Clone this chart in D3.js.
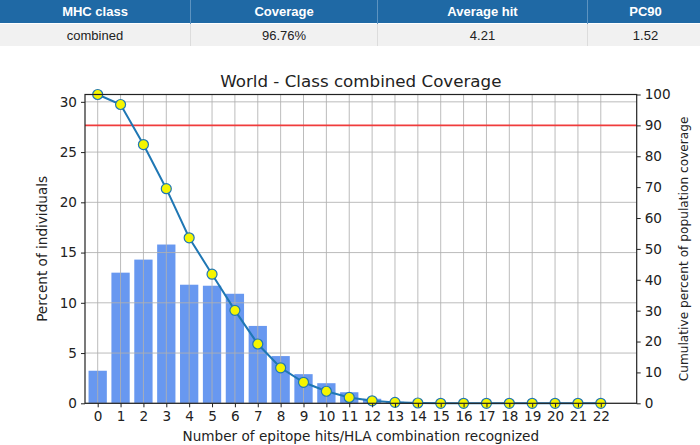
<!DOCTYPE html>
<html>
<head>
<meta charset="utf-8">
<style>
    body { margin: 0; background: #fff; width: 700px; height: 445px; overflow: hidden; }
    table.summary {
        position: absolute; left: 0; top: 0; width: 700px;
        border-collapse: collapse; table-layout: fixed;
        font-family: "Liberation Sans", Arial, sans-serif; font-size: 13px;
    }
    table.summary th {
        background: #1f69a5; color: #fff; font-weight: bold;
        height: 23px; padding: 0; border-right: 1px solid #5d93c0;
    }
    table.summary td {
        background: #f1f1f1; color: #222; text-align: center;
        height: 22px; padding: 0; border-right: 1px solid #dcdcdc; border-top: 1px solid #fff;
    }
    svg { position: absolute; left: 0; top: 0; }
    text { font-family: "DejaVu Sans", sans-serif; fill: #222; }
</style>
<script src="https://cdn.jsdelivr.net/npm/d3@7"></script>
</head>
<body>
<svg id="chart" width="700" height="445"></svg>
<table class="summary" id="summary"></table>

<script>
// table
var tableHeaders = ["MHC class", "Coverage", "Average hit", "PC90"];
var tableRow = ["combined", "96.76%", "4.21", "1.52"];
var colWidths = [190, 186, 209, 115];

// chart data
var hits = d3.range(0, 23);
var percentIndividuals = [3.24, 13.0, 14.3, 15.8, 11.8, 11.7, 10.9, 7.7, 4.7, 2.9, 2.0, 1.1,
                          0.45, 0.15, 0.05, 0, 0, 0, 0, 0, 0, 0, 0];
var cumulativeCoverage = [100, 96.76, 83.8, 69.5, 53.6, 41.8, 30.1, 19.2, 11.5, 6.8, 3.9, 1.9,
                          0.8, 0.3, 0.1, 0, 0, 0, 0, 0, 0, 0, 0];
var leftTicks = [0, 5, 10, 15, 20, 25, 30];
var rightTicks = [0, 10, 20, 30, 40, 50, 60, 70, 80, 90, 100];
var pc90Line = 90;

var tbl = d3.select("#summary");
tbl.append("tr").selectAll("th").data(tableHeaders).enter().append("th")
    .style("width", function (d, i) { return colWidths[i] + "px"; })
    .text(function (d) { return d; });
tbl.append("tr").selectAll("td").data(tableRow).enter().append("td")
    .text(function (d) { return d; });

var svg = d3.select("#chart");
var plotL = 85, plotR = 636.7, plotT = 94.5, plotB = 403.3;

var x = d3.scaleLinear().domain([-0.555, 23.57]).range([plotL, plotR]);
var yL = d3.scaleLinear().domain([0, 30.73]).range([plotB, plotT]);
var yR = d3.scaleLinear().domain([0, 100]).range([plotB, plotT]);
var bw = x(0.8) - x(0);

// bars
svg.append("g").selectAll("rect").data(hits).enter().append("rect")
    .attr("x", function (d) { return x(d - 0.4); })
    .attr("y", function (d) { return yL(percentIndividuals[d]); })
    .attr("width", bw)
    .attr("height", function (d) { return plotB - yL(percentIndividuals[d]); })
    .attr("fill", "#6898f0");

// grid (drawn over bars)
var grid = svg.append("g").attr("stroke", "#b0b0b0").attr("stroke-opacity", 0.85).attr("stroke-width", 1);
grid.selectAll("line.v").data(hits).enter().append("line")
    .attr("x1", function (d) { return x(d); }).attr("x2", function (d) { return x(d); })
    .attr("y1", plotT).attr("y2", plotB);
grid.selectAll("line.h").data(leftTicks).enter().append("line")
    .attr("x1", plotL).attr("x2", plotR)
    .attr("y1", function (d) { return yL(d); }).attr("y2", function (d) { return yL(d); });

// 90% line
svg.append("line")
    .attr("x1", plotL).attr("x2", plotR)
    .attr("y1", yR(pc90Line)).attr("y2", yR(pc90Line))
    .attr("stroke", "#f03c3c").attr("stroke-width", 1.6);

// cumulative line
var line = d3.line()
    .x(function (d) { return x(d); })
    .y(function (d) { return yR(cumulativeCoverage[d]); });
svg.append("path").datum(hits)
    .attr("d", line).attr("fill", "none")
    .attr("stroke", "#1f77b4").attr("stroke-width", 2);
svg.append("g").selectAll("circle").data(hits).enter().append("circle")
    .attr("cx", function (d) { return x(d); })
    .attr("cy", function (d) { return yR(cumulativeCoverage[d]); })
    .attr("r", 5)
    .attr("fill", "#f5f500").attr("stroke", "#1f77b4").attr("stroke-width", 1.2);

// axes
function styleAxis(g) {
    g.select(".domain").remove();
    g.selectAll(".tick line").attr("stroke", "#222");
    g.selectAll(".tick text").attr("fill", "#222")
        .style("font-family", "DejaVu Sans").style("font-size", "13.6px");
}
svg.append("g").attr("transform", "translate(" + plotL + ",0)")
    .call(d3.axisLeft(yL).tickValues(leftTicks).tickSize(4).tickPadding(4))
    .call(styleAxis);
svg.append("g").attr("transform", "translate(" + plotR + ",0)")
    .call(d3.axisRight(yR).tickValues(rightTicks).tickSize(4).tickPadding(4))
    .call(styleAxis);
svg.append("g").attr("transform", "translate(0," + plotB + ")")
    .call(d3.axisBottom(x).tickValues(hits).tickFormat(d3.format("d")).tickSize(4).tickPadding(4))
    .call(styleAxis);

// frame
svg.append("rect")
    .attr("x", plotL).attr("y", plotT)
    .attr("width", plotR - plotL).attr("height", plotB - plotT)
    .attr("fill", "none").attr("stroke", "#222").attr("stroke-width", 1.2);

// labels
svg.append("text").attr("x", (plotL + plotR) / 2).attr("y", 86.5)
    .attr("text-anchor", "middle").style("font-size", "16.7px")
    .text("World - Class combined Coverage");
svg.append("text").attr("x", (plotL + plotR) / 2).attr("y", 441)
    .attr("text-anchor", "middle").style("font-size", "13.6px")
    .text("Number of epitope hits/HLA combination recognized");
svg.append("text")
    .attr("transform", "translate(47," + (plotT + plotB) / 2 + ") rotate(-90)")
    .attr("text-anchor", "middle").style("font-size", "13.6px")
    .text("Percent of individuals");
svg.append("text")
    .attr("transform", "translate(688," + (plotT + plotB) / 2 + ") rotate(-90)")
    .attr("text-anchor", "middle").style("font-size", "12.2px")
    .text("Cumulative percent of population coverage");
</script>
</body>
</html>
